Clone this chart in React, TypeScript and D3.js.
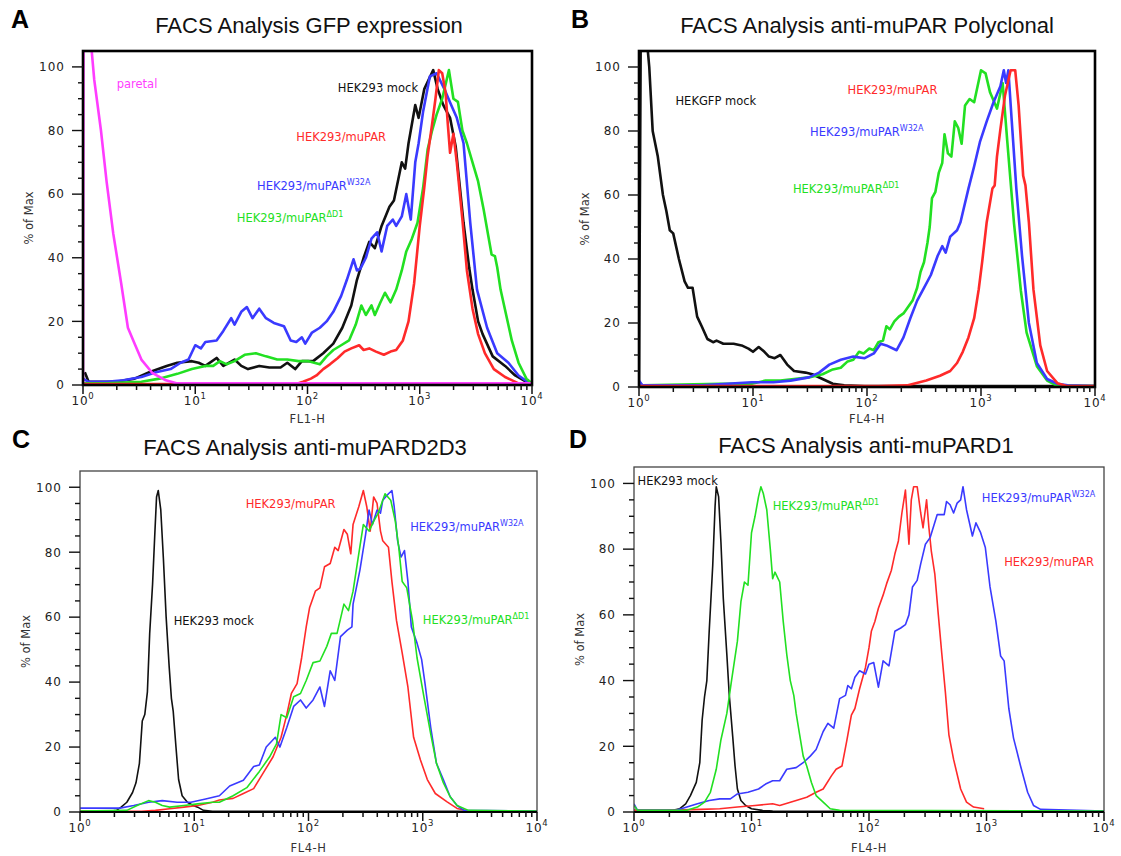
import React, { useEffect, useRef } from "react";
import * as d3 from "d3";

// x = log10 of the fluorescence channel value, y = % of Max

// A: GFP expression (FL1-H)
const gfpParental = [[0, 0], [0.005, 108], [0.07, 108], [0.1, 96], [0.16, 80], [0.21, 64], [0.27, 47.5], [0.34, 32], [0.4, 18], [0.46, 13], [0.52, 8], [0.62, 3.7], [0.73, 1.6], [0.84, 0.5], [4, 0.5]];
const gfpMock = [[0.016, 4], [0.05, 1], [0.3, 1], [0.46, 2], [0.59, 4], [0.745, 6], [0.84, 7], [0.97, 7.5], [1.03, 7], [1.09, 6], [1.19, 8.5], [1.25, 6], [1.35, 8], [1.41, 6], [1.47, 5], [1.57, 6], [1.66, 5.5], [1.76, 5.5], [1.82, 7], [1.89, 5], [1.95, 7.5], [2.05, 7.5], [2.14, 10], [2.23, 13], [2.31, 18], [2.39, 25], [2.44, 33], [2.5, 40], [2.55, 45], [2.6, 43], [2.66, 50], [2.73, 56], [2.77, 58], [2.84, 70], [2.87, 68], [2.9, 76], [2.96, 88], [2.99, 84], [3.04, 93], [3.12, 99], [3.16, 93], [3.21, 88], [3.27, 84], [3.32, 75], [3.39, 51], [3.44, 37], [3.47, 30], [3.52, 20], [3.56, 16], [3.65, 9], [3.76, 6], [3.85, 3], [3.95, 1], [4, 0.5]];
const gfpW32A = [[0, 2], [0.05, 1], [0.21, 1], [0.36, 1.5], [0.52, 2.5], [0.65, 4], [0.78, 5], [0.87, 7], [0.94, 8], [1.0, 12.5], [1.05, 11.5], [1.09, 13.5], [1.19, 14], [1.25, 17], [1.32, 21], [1.35, 19], [1.41, 23], [1.46, 24.5], [1.51, 21], [1.57, 24], [1.63, 21], [1.7, 19.5], [1.79, 18.5], [1.85, 14], [1.9, 13.5], [1.95, 15], [1.98, 13], [2.04, 16.5], [2.11, 18], [2.17, 20], [2.23, 23], [2.3, 28], [2.35, 33], [2.41, 39.5], [2.44, 36], [2.47, 36.5], [2.52, 40], [2.57, 46], [2.62, 48], [2.66, 42], [2.71, 50], [2.76, 52], [2.79, 50], [2.84, 53], [2.88, 60], [2.92, 52], [2.96, 70], [2.99, 76], [3.03, 86], [3.09, 97], [3.15, 98], [3.22, 93], [3.28, 88], [3.33, 84], [3.39, 76], [3.45, 51], [3.51, 30], [3.6, 18], [3.69, 10], [3.79, 7], [3.88, 3], [3.98, 0.5]];
const gfpDeltaD1 = [[0, 0.5], [0.21, 0.5], [0.52, 1], [0.68, 2], [0.84, 3.5], [0.97, 5], [1.09, 6], [1.16, 6], [1.22, 7.5], [1.28, 6.5], [1.35, 7.5], [1.44, 9.5], [1.54, 10], [1.63, 9], [1.73, 8], [1.82, 8], [1.92, 7.5], [2.01, 7.5], [2.11, 6.5], [2.17, 9], [2.23, 11], [2.3, 12.5], [2.37, 14], [2.43, 19], [2.48, 25], [2.52, 22], [2.57, 25], [2.6, 22], [2.65, 26], [2.69, 29], [2.74, 26], [2.79, 30], [2.84, 36], [2.88, 42], [2.93, 46], [2.98, 51], [3.03, 62], [3.07, 74], [3.11, 80], [3.15, 85], [3.2, 90], [3.26, 99], [3.3, 90], [3.34, 89], [3.38, 80], [3.42, 76], [3.47, 70], [3.52, 64], [3.57, 55], [3.61, 47], [3.64, 41], [3.67, 40.5], [3.69, 37], [3.72, 30], [3.77, 22], [3.82, 14], [3.88, 7], [3.95, 2], [4, 0.5]];
const gfpMuPAR = [[0, 0.3], [1.9, 0.3], [1.96, 1], [2.03, 2], [2.08, 3], [2.14, 5], [2.2, 6.5], [2.27, 8.5], [2.33, 10.5], [2.39, 11.5], [2.46, 12.5], [2.5, 11], [2.55, 11.5], [2.61, 10.5], [2.68, 9.5], [2.74, 10.5], [2.79, 11], [2.85, 14], [2.9, 20], [2.95, 32], [3.0, 50], [3.04, 62], [3.07, 72], [3.11, 82], [3.14, 90], [3.17, 99], [3.2, 98], [3.23, 92], [3.25, 82], [3.27, 73], [3.3, 79], [3.33, 70], [3.38, 52], [3.42, 36], [3.47, 24], [3.52, 16], [3.58, 10], [3.66, 5], [3.76, 2.5], [3.88, 0.5], [3.95, 0]];

// B: anti-muPAR polyclonal (FL4-H)
const polyMock = [[0, 2], [0.015, 108], [0.07, 108], [0.09, 100], [0.12, 80], [0.165, 72], [0.21, 60], [0.24, 55], [0.27, 49], [0.3, 48], [0.35, 40], [0.4, 33], [0.43, 31], [0.47, 31], [0.51, 22], [0.55, 19], [0.6, 15], [0.65, 14], [0.68, 14.5], [0.74, 13.5], [0.83, 13.5], [0.9, 13], [0.96, 12], [1.0, 11], [1.05, 12.5], [1.1, 11], [1.14, 9.5], [1.19, 9], [1.24, 10], [1.3, 7], [1.36, 5], [1.46, 4.5], [1.52, 4], [1.61, 2.5], [1.7, 1], [1.8, 0.5], [1.98, 0.3], [4, 0.3]];
const polyDeltaD1 = [[0, 1.5], [0.03, 0.5], [0.71, 1], [0.99, 1], [1.11, 2], [1.24, 2], [1.36, 2.5], [1.49, 3], [1.61, 4], [1.7, 5.5], [1.77, 6], [1.83, 8], [1.88, 8.5], [1.93, 11], [1.97, 10.5], [2.02, 12], [2.06, 11.5], [2.1, 14], [2.14, 14.5], [2.17, 19], [2.2, 18], [2.24, 20.5], [2.28, 22], [2.32, 23], [2.36, 25], [2.4, 27], [2.44, 31], [2.47, 36], [2.5, 39], [2.53, 45], [2.55, 50], [2.57, 59], [2.6, 61], [2.63, 67], [2.66, 70], [2.68, 79], [2.71, 73], [2.74, 72], [2.77, 83], [2.8, 81], [2.83, 76], [2.86, 88], [2.9, 90], [2.94, 89], [2.97, 94], [3.0, 99], [3.04, 98], [3.08, 92], [3.14, 87], [3.19, 95], [3.23, 77], [3.29, 51], [3.35, 30], [3.4, 17], [3.49, 6.5], [3.58, 2], [3.66, 0.5], [4, 0.3]];
const polyW32A = [[0, 2], [0.03, 0.5], [0.55, 0.5], [0.99, 1.5], [1.18, 1.5], [1.33, 2], [1.49, 3], [1.58, 4.5], [1.67, 7], [1.77, 8.5], [1.88, 9.5], [1.98, 9], [2.06, 10.5], [2.12, 13.5], [2.17, 13], [2.26, 11.5], [2.32, 15.5], [2.38, 21.5], [2.44, 27], [2.5, 31], [2.56, 35], [2.62, 41], [2.66, 44], [2.69, 42], [2.73, 47], [2.79, 49], [2.82, 51.5], [2.85, 56], [2.89, 62], [2.94, 69], [2.99, 76.5], [3.05, 83], [3.11, 89], [3.17, 94], [3.2, 99], [3.22, 95], [3.24, 99], [3.27, 83], [3.31, 62], [3.36, 41], [3.42, 20], [3.49, 7.5], [3.58, 2.5], [3.67, 1], [3.76, 0.5], [4, 0.3]];
const polyMuPAR = [[0, 0.3], [2.1, 0.3], [2.35, 0.5], [2.52, 2], [2.64, 3.5], [2.73, 5], [2.79, 7.5], [2.84, 11], [2.89, 15.5], [2.94, 21.5], [2.98, 30.5], [3.01, 39], [3.05, 51.5], [3.1, 62], [3.12, 63], [3.14, 72], [3.17, 80.5], [3.21, 91], [3.26, 99], [3.3, 99], [3.33, 88], [3.37, 66], [3.39, 63], [3.42, 51.5], [3.46, 30.5], [3.52, 13], [3.58, 5], [3.67, 1.2], [3.75, 0.3], [4, 0.3]];

// C: anti-muPAR D2D3 (FL4-H)
const d2d3Mock = [[0, 0.2], [0.26, 0.2], [0.32, 0.5], [0.36, 1.5], [0.41, 3], [0.46, 6], [0.49, 9], [0.52, 15], [0.545, 28], [0.567, 30], [0.59, 37], [0.61, 55], [0.635, 70], [0.654, 85], [0.67, 97], [0.685, 99], [0.707, 93], [0.73, 78], [0.754, 60], [0.78, 45], [0.8, 35], [0.816, 31], [0.84, 20], [0.863, 10], [0.894, 5], [0.94, 3], [0.99, 2], [1.03, 1.5], [1.08, 0.5], [1.16, 0.2], [4, 0.2]];
const d2d3MuPAR = [[0, 0.2], [0.54, 0.2], [0.66, 0.5], [0.785, 1], [0.91, 1.5], [1.03, 2], [1.16, 3], [1.22, 3.7], [1.34, 4.2], [1.43, 5.7], [1.52, 7.2], [1.6, 11.8], [1.69, 17], [1.76, 23], [1.81, 30], [1.85, 36.5], [1.9, 39.5], [1.94, 47.5], [1.98, 57], [2.01, 63], [2.06, 68], [2.1, 69], [2.14, 75.5], [2.19, 76.5], [2.23, 81.5], [2.26, 80.5], [2.31, 87], [2.34, 85.5], [2.37, 79.5], [2.39, 88.5], [2.44, 94], [2.48, 99], [2.51, 94], [2.54, 86.5], [2.57, 97], [2.6, 95], [2.63, 86.5], [2.65, 83.5], [2.7, 81.5], [2.73, 71], [2.77, 59], [2.82, 49], [2.87, 38.5], [2.92, 23], [2.98, 16], [3.04, 10], [3.11, 5.7], [3.21, 3.2], [3.3, 1.1], [3.4, 0.3], [4, 0.3]];
const d2d3W32A = [[0, 1.2], [0.35, 1.2], [0.47, 2], [0.6, 3], [0.72, 3.5], [0.85, 3], [0.97, 3], [1.1, 4], [1.22, 5], [1.31, 8], [1.43, 9.8], [1.52, 14], [1.57, 14.5], [1.63, 20], [1.71, 23], [1.75, 20], [1.81, 26], [1.87, 32.5], [1.93, 34.5], [1.98, 32], [2.04, 34.5], [2.1, 38.5], [2.14, 32.5], [2.19, 43.5], [2.23, 40.5], [2.28, 54], [2.34, 56], [2.38, 57], [2.39, 64], [2.45, 74.5], [2.5, 85.5], [2.53, 93], [2.56, 88.5], [2.6, 93], [2.63, 92], [2.65, 96], [2.7, 98], [2.73, 99], [2.75, 94], [2.78, 83.5], [2.81, 78.5], [2.84, 80.5], [2.87, 71], [2.9, 57], [2.95, 52], [2.99, 47], [3.02, 39.5], [3.07, 26], [3.12, 15], [3.18, 10], [3.24, 4.7], [3.3, 2], [3.36, 0.5], [4, 0.3]];
const d2d3DeltaD1 = [[0, 0.3], [0.41, 0.5], [0.5, 2], [0.6, 3.5], [0.66, 3], [0.72, 2], [0.785, 1.5], [0.91, 2], [1.03, 2.5], [1.16, 3], [1.22, 3], [1.34, 5], [1.46, 7.5], [1.57, 12.5], [1.66, 17], [1.72, 21], [1.76, 30], [1.81, 29], [1.87, 35.5], [1.93, 36.5], [1.98, 40.5], [2.04, 46], [2.1, 46.5], [2.16, 51], [2.2, 55], [2.25, 55], [2.31, 64], [2.35, 62], [2.39, 68], [2.44, 79.5], [2.48, 88.5], [2.53, 86.5], [2.57, 89.5], [2.61, 92], [2.64, 95], [2.67, 98], [2.72, 96], [2.76, 89.5], [2.79, 81.5], [2.82, 71], [2.86, 69], [2.91, 59], [2.95, 47.5], [3.01, 35.5], [3.07, 24], [3.12, 15], [3.18, 9], [3.24, 4.7], [3.3, 2], [3.4, 0.5], [4, 0.3]];

// D: anti-muPAR D1 (FL4-H)
const d1Mock = [[0, 0.5], [0.33, 0.5], [0.39, 1], [0.44, 2.5], [0.48, 5], [0.53, 9], [0.56, 15], [0.58, 28], [0.6, 35], [0.62, 40], [0.64, 55], [0.67, 75], [0.69, 93], [0.7, 99], [0.72, 96], [0.74, 82], [0.76, 65], [0.79, 48], [0.81, 36], [0.84, 23], [0.86, 14], [0.88, 7], [0.91, 3.5], [0.95, 2], [1.0, 1], [1.09, 0.5], [1.18, 0.3], [4, 0.2]];
const d1MuPAR = [[0, 0.5], [0.27, 0.5], [0.57, 0.8], [0.73, 1], [0.88, 1.5], [1.03, 2], [1.18, 2.5], [1.24, 2], [1.38, 3.5], [1.47, 4.5], [1.55, 6], [1.61, 7], [1.68, 11], [1.72, 13], [1.77, 14], [1.81, 21.5], [1.85, 29.5], [1.88, 31.5], [1.92, 37.5], [1.97, 44], [2.0, 50], [2.02, 55], [2.05, 58], [2.08, 62], [2.12, 66], [2.15, 69.5], [2.19, 73.5], [2.22, 78.5], [2.25, 82.5], [2.28, 91], [2.31, 98], [2.34, 81.5], [2.36, 95], [2.38, 99], [2.41, 99], [2.44, 91], [2.46, 86.5], [2.49, 95], [2.51, 86.5], [2.53, 79.5], [2.56, 72.5], [2.59, 60], [2.62, 48], [2.65, 36.5], [2.68, 23.5], [2.72, 16], [2.78, 7], [2.83, 3], [2.89, 1.5], [2.98, 1]];
const d1W32A = [[0, 2.5], [0.03, 0.5], [0.36, 0.5], [0.45, 1.5], [0.54, 2.5], [0.64, 3.5], [0.73, 4], [0.82, 4], [0.88, 5.5], [0.97, 6], [1.06, 7], [1.12, 8.5], [1.18, 9.5], [1.24, 9.5], [1.3, 13], [1.38, 13.5], [1.44, 15], [1.5, 17], [1.55, 19], [1.61, 24.5], [1.65, 27], [1.7, 25.5], [1.75, 34.5], [1.8, 35.5], [1.82, 38.5], [1.85, 37.5], [1.88, 41], [1.92, 43], [1.97, 42], [2.0, 45], [2.04, 45.5], [2.08, 38], [2.12, 46], [2.17, 44.5], [2.22, 55], [2.27, 56], [2.31, 57], [2.34, 60], [2.37, 68.5], [2.41, 70.5], [2.44, 75.5], [2.48, 81.5], [2.52, 83.5], [2.58, 90.5], [2.64, 90.5], [2.66, 94.5], [2.69, 93.5], [2.72, 91], [2.75, 94], [2.78, 95], [2.8, 99], [2.83, 92], [2.88, 84], [2.91, 88], [2.95, 85], [2.99, 80.5], [3.03, 68.5], [3.08, 58], [3.12, 47.5], [3.15, 46], [3.19, 31.5], [3.23, 22.5], [3.29, 14], [3.35, 6], [3.4, 2], [3.46, 0.8], [4, 0.3]];
const d1DeltaD1 = [[0, 2], [0.03, 0.5], [0.45, 0.5], [0.54, 1.5], [0.6, 3], [0.65, 6], [0.7, 13], [0.74, 22], [0.79, 30], [0.83, 40], [0.88, 52], [0.91, 64], [0.94, 70], [0.97, 69], [1.0, 85], [1.03, 90], [1.06, 96], [1.08, 99], [1.1, 97], [1.13, 92], [1.16, 80], [1.18, 71], [1.2, 73], [1.22, 71.5], [1.24, 70], [1.27, 58], [1.3, 48], [1.33, 40], [1.36, 35.5], [1.38, 30], [1.41, 23.5], [1.44, 17], [1.47, 14], [1.51, 9], [1.55, 5], [1.61, 3], [1.67, 1], [1.75, 0.5], [4, 0.3]];

const xDecades = [1, 10, 100, 1000, 10000];
const yMajor = [0, 20, 40, 60, 80, 100];

const RED = "#ff2a2a";
const BLUE = "#3a3aff";
const GREEN = "#22e022";
const BLACK = "#111111";
const MAGENTA = "#ff3cff";

const FONT = "'Liberation Sans', Arial, Helvetica, sans-serif";
const SMALL = "'DejaVu Sans', Verdana, sans-serif";

const panels = [
  {
    letter: "A", letterAt: [11, 28], title: "FACS Analysis GFP expression", titleAt: [309, 33],
    xLabel: "FL1-H", xLabelY: 423, box: [83, 51, 532, 385], heavy: true,
    series: [[gfpMock, BLACK], [gfpW32A, BLUE], [gfpDeltaD1, GREEN], [gfpMuPAR, RED], [gfpParental, MAGENTA]],
    labels: [
      ["paretal", "", MAGENTA, 0.30, 93.4],
      ["HEK293 mock", "", BLACK, 2.27, 92.2],
      ["HEK293/muPAR", "", RED, 1.9, 76.8],
      ["HEK293/muPAR", "W32A", BLUE, 1.55, 61.4],
      ["HEK293/muPAR", "ΔD1", GREEN, 1.37, 51.1],
    ],
  },
  {
    letter: "B", letterAt: [571, 28], title: "FACS Analysis anti-muPAR Polyclonal", titleAt: [867, 33],
    xLabel: "FL4-H", xLabelY: 423, box: [639, 51, 1095, 387], heavy: true,
    series: [[polyMock, BLACK], [polyDeltaD1, GREEN], [polyW32A, BLUE], [polyMuPAR, RED]],
    labels: [
      ["HEKGFP mock", "", BLACK, 0.32, 88.2],
      ["HEK293/muPAR", "", RED, 1.83, 91.6],
      ["HEK293/muPAR", "W32A", BLUE, 1.5, 78.5],
      ["HEK293/muPAR", "ΔD1", GREEN, 1.35, 60.7],
    ],
  },
  {
    letter: "C", letterAt: [12, 448], title: "FACS Analysis anti-muPARD2D3", titleAt: [305, 455],
    xLabel: "FL4-H", xLabelY: 852, box: [80, 471, 537, 812], heavy: false,
    series: [[d2d3Mock, BLACK], [d2d3MuPAR, RED], [d2d3W32A, BLUE], [d2d3DeltaD1, GREEN]],
    labels: [
      ["HEK293/muPAR", "", RED, 1.45, 93.5],
      ["HEK293/muPAR", "W32A", BLUE, 2.89, 86.4],
      ["HEK293 mock", "", BLACK, 0.82, 57.5],
      ["HEK293/muPAR", "ΔD1", GREEN, 3.0, 57.8],
    ],
  },
  {
    letter: "D", letterAt: [569, 448], title: "FACS Analysis anti-muPARD1", titleAt: [866, 453],
    xLabel: "FL4-H", xLabelY: 852, box: [634, 467, 1104, 812], heavy: false,
    series: [[d1Mock, BLACK], [d1MuPAR, RED], [d1W32A, BLUE], [d1DeltaD1, GREEN]],
    labels: [
      ["HEK293 mock", "", BLACK, 0.03, 99.4],
      ["HEK293/muPAR", "ΔD1", GREEN, 1.18, 91.8],
      ["HEK293/muPAR", "W32A", BLUE, 2.96, 94.5],
      ["HEK293/muPAR", "", RED, 3.15, 74.9],
    ],
  },
];

function drawPanel(svg, p) {
  const [x0, y0, x1, y1] = p.box;
  const x = d3.scaleLog().domain([1, 10000]).range([x0, x1]);
  const y = d3.scaleLinear().domain([0, 105]).range([y1, y0]);
  const g = svg.append("g").attr("font-family", SMALL);

  const clipId = "clip" + p.letter;
  g.append("clipPath").attr("id", clipId)
    .append("rect").attr("x", x0).attr("y", y0).attr("width", x1 - x0).attr("height", y1 - y0);

  const line = d3.line().x(d => x(10 ** d[0])).y(d => y(d[1]));

  g.append("g")
    .attr("clip-path", `url(#${clipId})`)
    .selectAll("path")
    .data(p.series)
    .join("path")
    .attr("d", s => line(s[0]))
    .attr("fill", "none")
    .attr("stroke", s => s[1])
    .attr("stroke-width", p.heavy ? 2.6 : 1.6)
    .attr("stroke-linejoin", "round");

  // frame
  if (p.heavy) {
    g.append("rect").attr("x", x0).attr("y", y0).attr("width", x1 - x0).attr("height", y1 - y0)
      .attr("fill", "none").attr("stroke", "#000").attr("stroke-width", 2.6);
  } else {
    g.append("rect").attr("x", x0).attr("y", y0).attr("width", x1 - x0).attr("height", y1 - y0)
      .attr("fill", "none").attr("stroke", "#444").attr("stroke-width", 1.3);
    g.append("line").attr("x1", x0).attr("x2", x1).attr("y1", y1).attr("y2", y1)
      .attr("stroke", "#000").attr("stroke-width", 2.2);
  }

  // y axis
  const yt = d3.range(0, 101, 5);
  g.append("g").selectAll("line").data(yt).join("line")
    .attr("x1", d => x0 - (d % 20 === 0 ? 11 : 5)).attr("x2", x0)
    .attr("y1", d => y(d)).attr("y2", d => y(d))
    .attr("stroke", "#111").attr("stroke-width", 1.4);
  g.append("g").selectAll("text").data(yMajor).join("text")
    .attr("x", x0 - 18).attr("y", d => y(d)).attr("dy", "0.36em")
    .attr("text-anchor", "end").attr("font-size", 12).attr("letter-spacing", 1)
    .attr("fill", "#222").text(d => d);

  g.append("text")
    .attr("transform", `translate(${x0 - 54},${(y0 + y1) / 2}) rotate(-90)`)
    .attr("text-anchor", "middle").attr("dy", "0.35em")
    .attr("font-size", 11.5).attr("fill", "#333").text("% of Max");

  // x axis (log)
  const xt = x.ticks();
  g.append("g").selectAll("line").data(xt).join("line")
    .attr("x1", d => x(d)).attr("x2", d => x(d))
    .attr("y1", y1).attr("y2", d => y1 + (xDecades.includes(d) ? 9 : 5))
    .attr("stroke", "#111").attr("stroke-width", 1.5);
  const xl = g.append("g").selectAll("text").data(xDecades).join("text")
    .attr("x", d => x(d)).attr("y", y1 + 20)
    .attr("text-anchor", "middle").attr("font-size", 12).attr("letter-spacing", 0.8).attr("fill", "#222");
  xl.append("tspan").text("10");
  xl.append("tspan").attr("dy", -6).attr("font-size", 8.5).text(d => Math.round(Math.log10(d)));

  g.append("text").attr("x", (x0 + x1) / 2).attr("y", p.xLabelY)
    .attr("text-anchor", "middle").attr("font-size", 11.5).attr("letter-spacing", 0.6)
    .attr("fill", "#333").text(p.xLabel);

  // curve labels
  const lab = g.append("g").selectAll("text").data(p.labels).join("text")
    .attr("x", d => x(10 ** d[3])).attr("y", d => y(d[4]))
    .attr("font-size", 11.5).attr("fill", d => d[2]);
  lab.append("tspan").text(d => d[0]);
  lab.append("tspan").attr("dy", -5).attr("font-size", 8).text(d => d[1]);

  // title and panel letter
  g.append("text").attr("x", p.titleAt[0]).attr("y", p.titleAt[1]).attr("font-family", FONT)
    .attr("text-anchor", "middle").attr("font-size", 22).attr("fill", "#111").text(p.title);
  g.append("text").attr("x", p.letterAt[0]).attr("y", p.letterAt[1]).attr("font-family", FONT)
    .attr("font-size", 25).attr("font-weight", "bold").attr("fill", "#000").text(p.letter);
}

export default function App() {
  const ref = useRef(null);

  useEffect(() => {
    const svg = d3.select(ref.current);
    svg.selectAll("*").remove();
    panels.forEach(p => drawPanel(svg, p));
  }, []);

  return (
    <svg ref={ref} width={1121} height={856}
      style={{ position: "absolute", left: 0, top: 0, background: "#fff" }} />
  );
}
